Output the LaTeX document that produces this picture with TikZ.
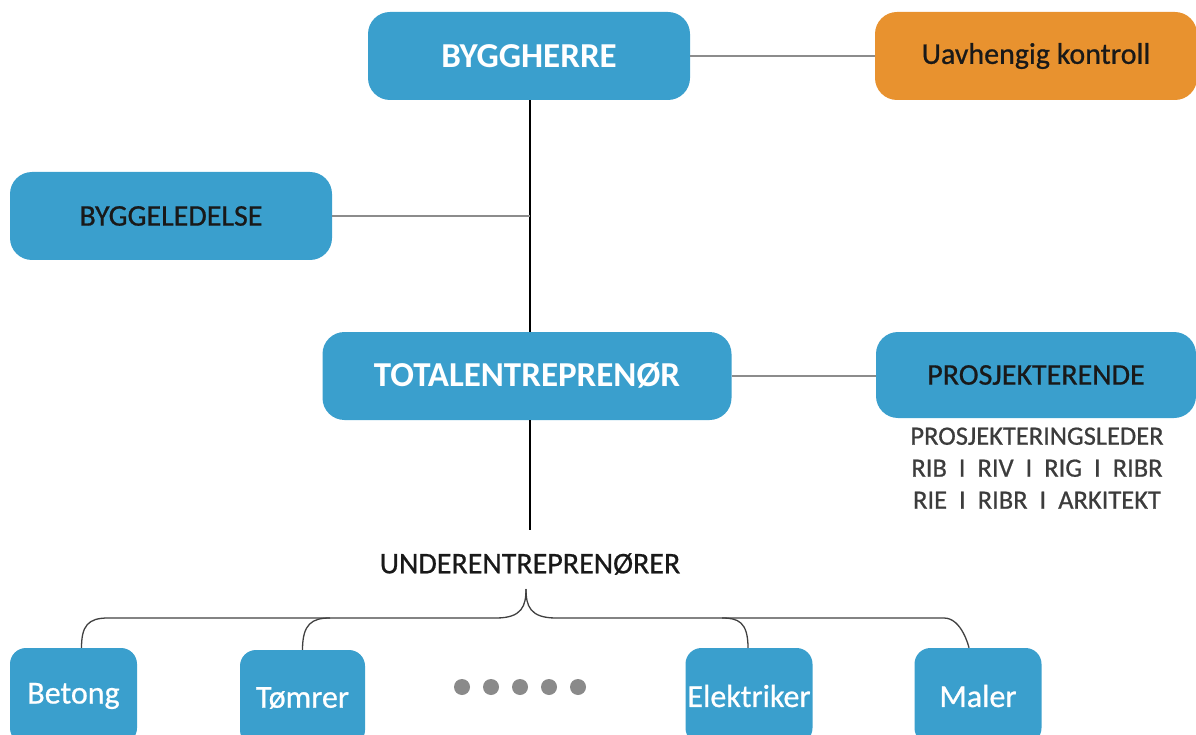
\documentclass[tikz,border=0pt]{standalone}
\usepackage{fontspec}
\setmainfont{Carlito}
\newfontfamily\heavyfont[FakeBold=0.7]{Carlito}
\begin{document}
\definecolor{boxblue}{HTML}{3A9FCD}
\definecolor{boxorange}{HTML}{E8922F}
\definecolor{linegrey}{HTML}{8C8C8C}
\definecolor{subtext}{HTML}{3C3C3C}
\definecolor{dotgrey}{HTML}{8A8A8A}
\begin{tikzpicture}[x=1pt,y=-1pt,
  box/.style={rectangle,rounded corners=22pt,fill=boxblue,inner sep=0pt},
  bigbox/.style={box,minimum width=322pt,minimum height=88pt},
  whitebold/.style={text=white,font=\fontsize{35}{42}\selectfont\bfseries},
  darktext/.style={text=black!90,font=\heavyfont\fontsize{30}{35}\selectfont},
  leafbox/.style={rectangle,rounded corners=16pt,fill=boxblue,inner sep=0pt,
    minimum height=96pt,text=white,font=\heavyfont\fontsize{32}{38}\selectfont},
  mainline/.style={black,line width=1.4pt},
  sideline/.style={linegrey,line width=2pt},
  bracket/.style={black!75,line width=1.3pt}]
\useasboundingbox (0,0) rectangle (1196,735);
\clip (0,0) rectangle (1196,735);

% top level
\node[bigbox,whitebold] (byggherre) at (529,56) {BYGGHERRE};
\node[bigbox,fill=boxorange,darktext,minimum width=322pt] (kontroll) at (1036,56) {Uavhengig kontroll};
\node[bigbox,darktext] (ledelse) at (171,216) {BYGGELEDELSE};
\node[box,whitebold,minimum width=409pt,minimum height=88pt] (total) at (527,376) {TOTALENTREPRENØR};
\node[box,darktext,minimum width=320pt,minimum height=86pt] (prosj) at (1036,375) {PROSJEKTERENDE};
\node[text=subtext,font=\heavyfont\fontsize{26.5}{32}\selectfont,align=center,anchor=north]
  (roles) at (1037,424) {PROSJEKTERINGSLEDER\\RIB \ I \ RIV \ I \ RIG \ I \ RIBR\\RIE \ I \ RIBR \ I \ ARKITEKT};

% junction on the main spine
\coordinate (j) at (530,216);
\coordinate (ue) at (530,530);
\node[darktext] (under) at (530,564) {UNDERENTREPRENØRER};

\draw[mainline] (byggherre.south -| j) -- (total.north -| j);
\draw[sideline] (ledelse.east) -- (j);
\draw[sideline] (byggherre.east) -- (kontroll.west);
\draw[sideline] (total.east) -- (total.east -| prosj.west);
\draw[mainline] (total.south -| ue) -- (ue);

% trades
\node[leafbox,minimum width=127pt] (betong) at (73.5,696) {Betong};
\node[leafbox,minimum width=125pt] (tomrer) at (302.5,698) {Tømrer};
\node[leafbox,minimum width=127pt] (elektriker) at (749,696) {Elektriker};
\node[leafbox,minimum width=127pt] (maler) at (978,696) {Maler};
\foreach \i/\xx in {1/462,2/491,3/520,4/549,5/578}
  \node[circle,fill=dotgrey,minimum size=16pt,inner sep=0pt] (dot\i) at (\xx,687) {};

% brace joining the trades
\coordinate (tip) at (526,589);
\draw[bracket] ([xshift=8pt]betong.north) .. controls +(0,-22) and (88,618) .. (108,618)
  -- (496,618) .. controls (522,618) and (526,606) .. (tip);
\draw[bracket] (tip) .. controls (526,606) and (530,618) .. (556,618)
  -- (944,618) .. controls (962,618) and ([xshift=-9pt]maler.north) .. ([xshift=-9pt]maler.north);
\draw[bracket] (tomrer.north) .. controls +(0,-26) and (312,618) .. (330,618);
\draw[bracket] ([xshift=-1pt]elektriker.north) .. controls +(0,-26) and (738,618) .. (722,618);
\end{tikzpicture}
\end{document}
